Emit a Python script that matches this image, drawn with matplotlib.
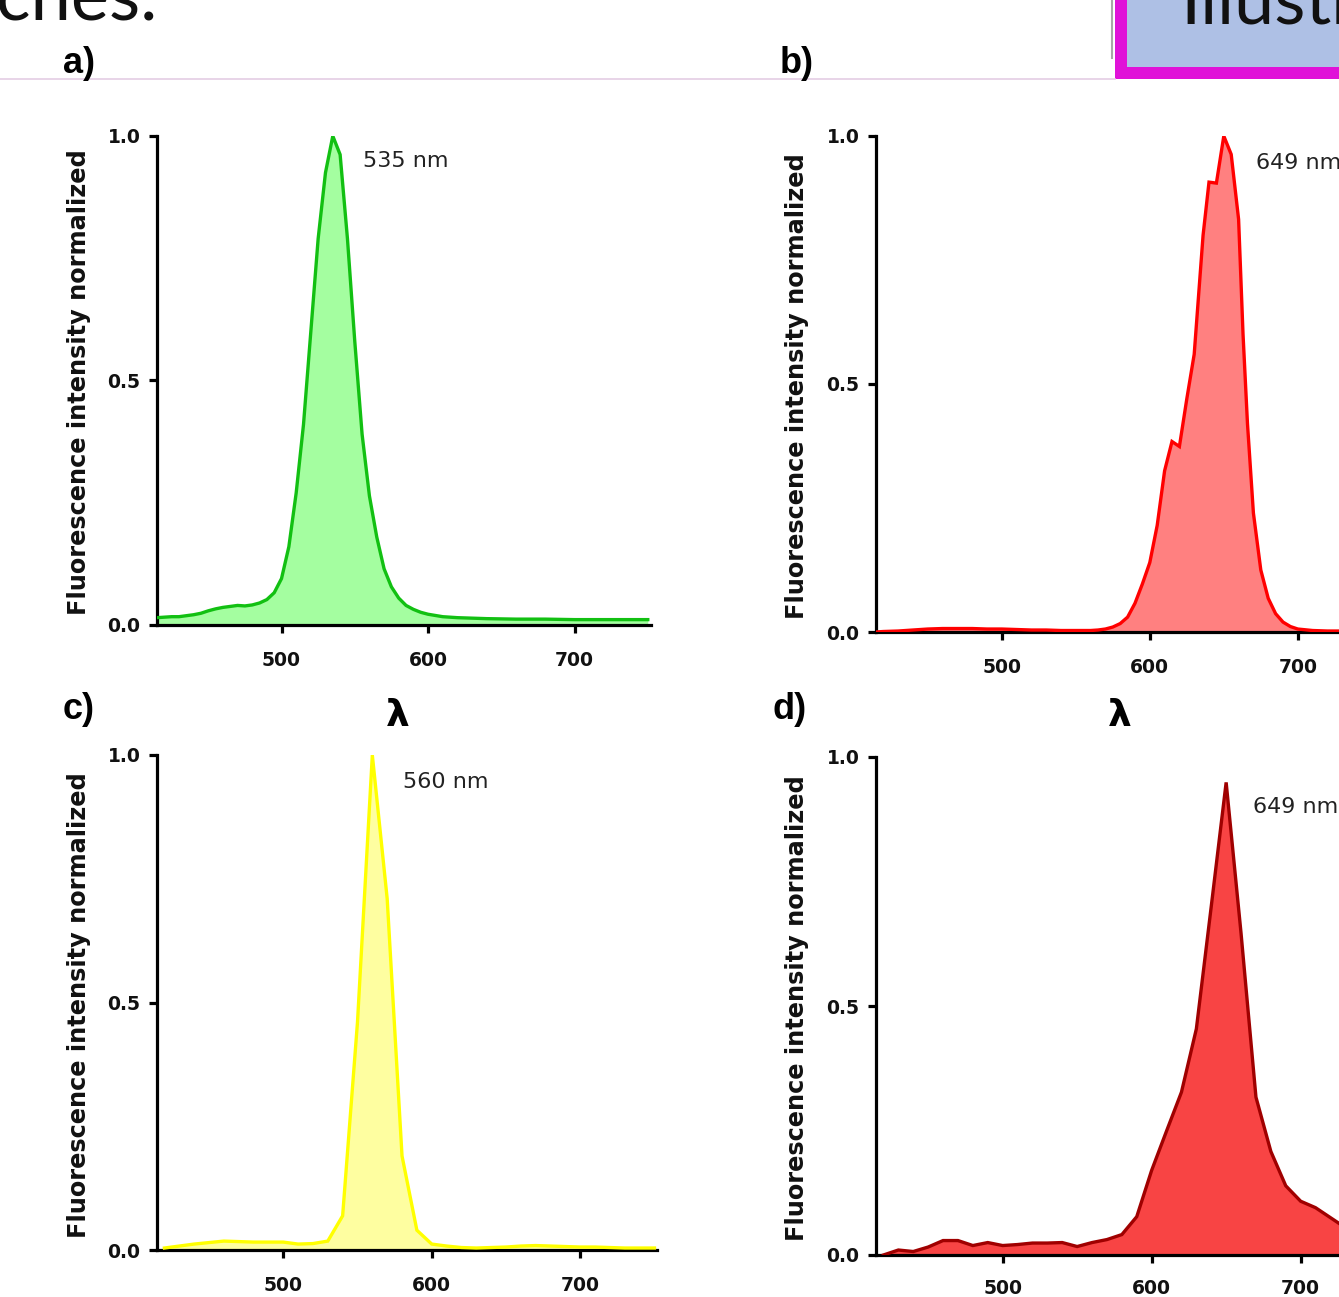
import matplotlib
matplotlib.use("Agg")
import matplotlib.pyplot as plt
from matplotlib.ticker import FormatStrFormatter
from matplotlib.patches import Rectangle
from matplotlib.lines import Line2D

# ---------------- data ----------------
wl_a = [415, 420, 425, 430, 435, 440, 445, 450, 455, 460, 465, 470, 475, 480, 485, 490, 495,
        500, 505, 510, 515, 520, 525, 530, 535, 540, 545, 550, 555, 560, 565, 570, 575, 580,
        585, 590, 595, 600, 610, 620, 630, 640, 660, 680, 700, 720, 750]
int_a = [0.015, 0.016, 0.017, 0.017, 0.019, 0.021, 0.024, 0.029, 0.033, 0.036, 0.038, 0.040,
         0.039, 0.041, 0.045, 0.052, 0.066, 0.095, 0.160, 0.270, 0.410, 0.600, 0.790, 0.925,
         1.000, 0.962, 0.790, 0.580, 0.390, 0.264, 0.180, 0.115, 0.078, 0.055, 0.040, 0.032,
         0.026, 0.022, 0.017, 0.015, 0.014, 0.013, 0.012, 0.012, 0.011, 0.011, 0.011]

wl_b = [415, 420, 430, 440, 450, 460, 470, 480, 490, 500, 510, 520, 530, 540, 550, 560, 565,
        570, 575, 580, 585, 590, 595, 600, 605, 610, 615, 620, 625, 630, 633, 636, 640, 645,
        650, 655, 660, 663, 666, 670, 675, 680, 685, 690, 695, 700, 710, 720, 735, 752]
int_b = [0.000, 0.001, 0.002, 0.004, 0.006, 0.007, 0.007, 0.007, 0.006, 0.006, 0.005, 0.004,
         0.004, 0.003, 0.003, 0.003, 0.004, 0.006, 0.010, 0.017, 0.030, 0.058, 0.097, 0.140,
         0.215, 0.325, 0.384, 0.374, 0.470, 0.560, 0.680, 0.800, 0.907, 0.905, 1.000, 0.963,
         0.832, 0.600, 0.420, 0.240, 0.125, 0.068, 0.037, 0.020, 0.011, 0.006, 0.003, 0.002,
         0.002, 0.002]

wl_c = [420, 430, 440, 450, 460, 470, 480, 490, 500, 510, 520, 530, 540, 550, 560, 570, 580,
        590, 600, 610, 620, 630, 640, 650, 660, 670, 680, 690, 700, 710, 720, 730, 740, 750]
int_c = [0.004, 0.008, 0.012, 0.015, 0.018, 0.017, 0.016, 0.016, 0.016, 0.012, 0.013, 0.018,
         0.069, 0.460, 1.000, 0.710, 0.190, 0.040, 0.012, 0.008, 0.005, 0.004, 0.005, 0.006,
         0.008, 0.009, 0.008, 0.007, 0.006, 0.006, 0.005, 0.004, 0.004, 0.004]

wl_d = [420, 430, 440, 450, 460, 470, 480, 490, 500, 510, 520, 530, 540, 550, 560, 570, 580,
        590, 600, 610, 620, 630, 640, 650, 660, 670, 680, 690, 700, 710, 720, 730, 740, 750]
int_d = [0.000, 0.010, 0.007, 0.016, 0.029, 0.029, 0.019, 0.025, 0.019, 0.021, 0.024, 0.024,
         0.025, 0.017, 0.025, 0.031, 0.041, 0.077, 0.170, 0.249, 0.327, 0.454, 0.700, 0.949,
         0.646, 0.317, 0.208, 0.139, 0.108, 0.095, 0.075, 0.055, 0.040, 0.030]

panel_labels = ["a)", "b)", "c)", "d)"]
peak_labels = ["535 nm", "649 nm", "560 nm", "649 nm"]
x_ticks = [500, 600, 700]
y_ticks = [0.0, 0.5, 1.0]
y_label = "Fluorescence intensity normalized"
x_label = "λ"

# ---------------- figure ----------------
W, H = 1339, 1297
fig = plt.figure(figsize=(W / 100, H / 100), dpi=100)
fig.patch.set_facecolor("white")


def fx(x):
    return x / W


def fy(y):
    return 1 - y / H


XMIN, XMAX = 415, 752


def make_axes(left_px, top_px, bottom_px, px_per_nm, xpad):
    width_px = (XMAX - XMIN) * px_per_nm
    ax = fig.add_axes([fx(left_px), fy(bottom_px), width_px / W, (bottom_px - top_px) / H])
    ax.set_xlim(XMIN, XMAX)
    ax.set_ylim(0, 1.0)
    ax.patch.set_alpha(0)
    for s in ["top", "right"]:
        ax.spines[s].set_visible(False)
    for s in ["left", "bottom"]:
        ax.spines[s].set_linewidth(2.3)
        ax.spines[s].set_color("black")
    ax.set_xticks(x_ticks)
    ax.set_yticks(y_ticks)
    ax.yaxis.set_major_formatter(FormatStrFormatter("%.1f"))
    ax.tick_params(axis="both", direction="out", length=6, width=2.3, color="black")
    ax.tick_params(axis="y", pad=6)
    ax.tick_params(axis="x", pad=xpad)
    for lab in ax.get_xticklabels() + ax.get_yticklabels():
        lab.set_fontfamily("DejaVu Sans")
        lab.set_fontweight("bold")
        lab.set_fontsize(13.5)
        lab.set_color("#111111")
    return ax


specs = [
    # left, top(1.0), bottom(0.0), px/nm, x-label pad, data, line colour, fill colour
    (157, 136, 625, 1.465, 13, wl_a, int_a, "#12c012", "#a4fea0"),
    (876, 136, 632, 1.480, 13, wl_b, int_b, "#ff0000", "#ff8080"),
    (157, 755, 1250, 1.485, 13, wl_c, int_c, "#ffff00", "#fefea0"),
    (876, 757, 1255, 1.490, 11, wl_d, int_d, "#a00000", "#f84444"),
]

axes = []
for (l, t, b, s, pad, wl, iv, lc, fc) in specs:
    ax = make_axes(l, t, b, s, pad)
    ax.fill_between(wl, iv, 0, color=fc, linewidth=0, zorder=1)
    ax.plot(wl, iv, color=lc, linewidth=2.4, zorder=3, solid_joinstyle="miter")
    axes.append(ax)

# peak annotations (pixel positions of text left/baseline)
peak_pos = [(363, 167), (1256, 169), (403, 788), (1253, 813)]
for (px_, py_), txt in zip(peak_pos, peak_labels):
    fig.text(fx(px_), fy(py_), txt, fontsize=16, family="DejaVu Sans",
             color="#222222", ha="left", va="baseline")

# y labels
ylab_pos = [(79, 382), (797, 386), (79, 1005), (797, 1008)]
for (px_, py_) in ylab_pos:
    fig.text(fx(px_), fy(py_), y_label, rotation=90, fontsize=17.3, family="DejaVu Sans",
             fontweight="bold", color="#111111", ha="center", va="center")

# lambda x labels
for (px_, py_) in [(398, 716), (1120, 716)]:
    fig.text(fx(px_), fy(py_), x_label, fontsize=27, family="DejaVu Sans",
             fontweight="heavy", color="black", ha="center", va="center")

# panel letters
letter_pos = [(63, 73), (780, 73), (63, 719), (772, 719)]
for (px_, py_), txt in zip(letter_pos, panel_labels):
    fig.text(fx(px_), fy(py_), txt, fontsize=26, family="Liberation Sans",
             fontweight="bold", color="black", ha="left", va="baseline")

# slide header remnants
fig.text(fx(-4), fy(19), "ches.", fontsize=52, family="Lato", color="#111111",
         ha="left", va="baseline")
fig.add_artist(Line2D([0, fx(1115)], [fy(79), fy(79)], color="#e4cde4", linewidth=1.2))
fig.add_artist(Line2D([fx(1112), fx(1112)], [fy(0), fy(58)], color="#a8a8a8", linewidth=1.5))
fig.add_artist(Rectangle((fx(1115), fy(79)), fx(260), 100 / H, facecolor="#e012d8",
                         edgecolor="none"))
fig.add_artist(Rectangle((fx(1127), fy(67)), fx(250), 90 / H, facecolor="#aec0e5",
                         edgecolor="none"))
fig.text(fx(1180), fy(24), "Illustration", fontsize=52, family="Lato", color="#111111",
         ha="left", va="baseline")

fig.savefig("out.png", dpi=100)
